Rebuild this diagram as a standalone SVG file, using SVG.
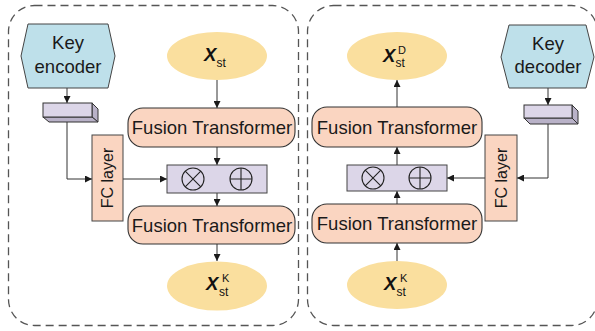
<svg xmlns="http://www.w3.org/2000/svg" width="595" height="331" viewBox="0 0 595 331">
  <defs>
    <marker id="arr" viewBox="0 0 10 10" refX="10" refY="5" markerWidth="7" markerHeight="7" markerUnits="userSpaceOnUse" orient="auto">
      <path d="M0,0 L10,5 L0,10 z" fill="#1a1a1a"/>
    </marker>
    <style>
      .panel { fill: none; stroke: #555; stroke-width: 1.3; stroke-dasharray: 8 5; }
      .key { fill: #BEE0EA; stroke: #444; stroke-width: 1; }
      .ft { fill: #FAD5C1; stroke: #333; stroke-width: 1.1; }
      .fc { fill: #FAD5C1; stroke: #444; stroke-width: 1; }
      .ell { fill: #FADF9E; stroke: none; }
      .op { fill: #DCD6E8; stroke: #444; stroke-width: 1; }
      .face { fill: #DCD6E8; stroke: #333; stroke-width: 1; }
      .side { fill: #B9B2C8; stroke: #333; stroke-width: 1; }
      .sym { fill: none; stroke: #222; stroke-width: 1.1; }
      .lbl { font-family: "Liberation Sans", Arial, sans-serif; fill: #1a1a1a; text-anchor: middle; }
      .big { font-size: 18.5px; }
      .fcl { font-size: 16px; }
      .var { font-family: "Liberation Sans", Arial, sans-serif; fill: #111; }
      .conn { fill: none; stroke: #333; stroke-width: 1; }
    </style>
  </defs>

  <!-- panel frames -->
  <rect class="panel" x="8.5" y="5.5" width="290" height="320" rx="26"/>
  <rect class="panel" x="307.5" y="5.5" width="290" height="320" rx="26"/>

  <!-- connectors -->
  <g id="connectors">
    <!-- left panel -->
    <path class="conn" d="M67,88 V103" marker-end="url(#arr)"/>
    <path class="conn" d="M67,122 V179 H92" marker-end="url(#arr)"/>
    <path class="conn" d="M123,179 H167" marker-end="url(#arr)"/>
    <path class="conn" d="M217,80 V108" marker-end="url(#arr)"/>
    <path class="conn" d="M217,147 V165" marker-end="url(#arr)"/>
    <path class="conn" d="M217,193 V206" marker-end="url(#arr)"/>
    <path class="conn" d="M217,244 V261" marker-end="url(#arr)"/>
    <!-- right panel -->
    <path class="conn" d="M548,88 V105" marker-end="url(#arr)"/>
    <path class="conn" d="M548,124 V178 H517" marker-end="url(#arr)"/>
    <path class="conn" d="M485,178 H447" marker-end="url(#arr)"/>
    <path class="conn" d="M397,261 V243" marker-end="url(#arr)"/>
    <path class="conn" d="M397,204 V191" marker-end="url(#arr)"/>
    <path class="conn" d="M397,165 V147" marker-end="url(#arr)"/>
    <path class="conn" d="M397,107 V80" marker-end="url(#arr)"/>
  </g>

  <!-- left panel nodes -->
  <g id="key-encoder">
    <polygon class="key" points="21,56 28,24 108,24 115,56 108,88 28,88"/>
    <text class="lbl big" x="68" y="49">Key</text>
    <text class="lbl big" x="68" y="73">encoder</text>
  </g>
  <g id="enc-block">
    <polygon class="side" points="92,103 98,109 98,122 92,117"/>
    <polygon class="side" points="43,117 49,122 98,122 92,117"/>
    <rect class="face" x="43" y="103" width="49" height="14"/>
  </g>
  <g id="enc-fc">
    <rect class="fc" x="92" y="135" width="31" height="86"/>
    <text class="lbl fcl" transform="translate(113,178) rotate(-90)">FC layer</text>
  </g>
  <g id="enc-xst">
    <ellipse class="ell" cx="217" cy="56" rx="50" ry="24"/>
    <text class="var" x="204" y="61" font-size="18.5" font-weight="bold" font-style="italic">X</text>
    <text class="var" x="216.5" y="67" font-size="12">st</text>
  </g>
  <g id="enc-ft1">
    <rect class="ft" x="128" y="108" width="167" height="39" rx="15"/>
    <text class="lbl big" x="212" y="134">Fusion Transformer</text>
  </g>
  <g id="enc-op">
    <rect class="op" x="167" y="165" width="100" height="28"/>
    <circle class="sym" cx="193" cy="179" r="11"/>
    <path class="sym" d="M185.2,171.2 L200.8,186.8 M200.8,171.2 L185.2,186.8"/>
    <circle class="sym" cx="241" cy="179" r="11"/>
    <path class="sym" d="M230,179 H252 M241,168 V190"/>
  </g>
  <g id="enc-ft2">
    <rect class="ft" x="128" y="206" width="167" height="38" rx="15"/>
    <text class="lbl big" x="212" y="232">Fusion Transformer</text>
  </g>
  <g id="enc-xk">
    <ellipse class="ell" cx="217" cy="286" rx="50" ry="24.5"/>
    <text class="var" x="206" y="290" font-size="18.5" font-weight="bold" font-style="italic">X</text>
    <text class="var" x="219" y="295.5" font-size="12">st</text>
    <text class="var" x="222" y="282" font-size="11">K</text>
  </g>

  <!-- right panel nodes -->
  <g id="key-decoder">
    <polygon class="key" points="501,57 509,25 586,25 594,57 586,88 509,88"/>
    <text class="lbl big" x="548" y="50">Key</text>
    <text class="lbl big" x="548" y="73">decoder</text>
  </g>
  <g id="dec-block">
    <polygon class="side" points="572,105 578,111 578,124 572,118"/>
    <polygon class="side" points="524,118 530,124 578,124 572,118"/>
    <rect class="face" x="524" y="105" width="48" height="13"/>
  </g>
  <g id="dec-fc">
    <rect class="fc" x="485" y="135" width="32" height="86"/>
    <text class="lbl fcl" transform="translate(507,178) rotate(-90)">FC layer</text>
  </g>
  <g id="dec-xd">
    <ellipse class="ell" cx="397" cy="56" rx="50" ry="24"/>
    <text class="var" x="383" y="62" font-size="18.5" font-weight="bold" font-style="italic">X</text>
    <text class="var" x="395.5" y="67" font-size="12">st</text>
    <text class="var" x="398" y="54" font-size="11">D</text>
  </g>
  <g id="dec-ft1">
    <rect class="ft" x="312" y="107" width="170" height="40" rx="15"/>
    <text class="lbl big" x="397" y="134">Fusion Transformer</text>
  </g>
  <g id="dec-op">
    <rect class="op" x="347" y="165" width="100" height="26"/>
    <circle class="sym" cx="373" cy="178" r="11"/>
    <path class="sym" d="M365.2,170.2 L380.8,185.8 M380.8,170.2 L365.2,185.8"/>
    <circle class="sym" cx="420" cy="178" r="11"/>
    <path class="sym" d="M409,178 H431 M420,167 V189"/>
  </g>
  <g id="dec-ft2">
    <rect class="ft" x="312" y="204" width="170" height="39" rx="15"/>
    <text class="lbl big" x="397" y="230">Fusion Transformer</text>
  </g>
  <g id="dec-xk">
    <ellipse class="ell" cx="397" cy="285" rx="50" ry="24"/>
    <text class="var" x="384" y="290" font-size="18.5" font-weight="bold" font-style="italic">X</text>
    <text class="var" x="396.5" y="295.5" font-size="12">st</text>
    <text class="var" x="400" y="282" font-size="11">K</text>
  </g>
</svg>
